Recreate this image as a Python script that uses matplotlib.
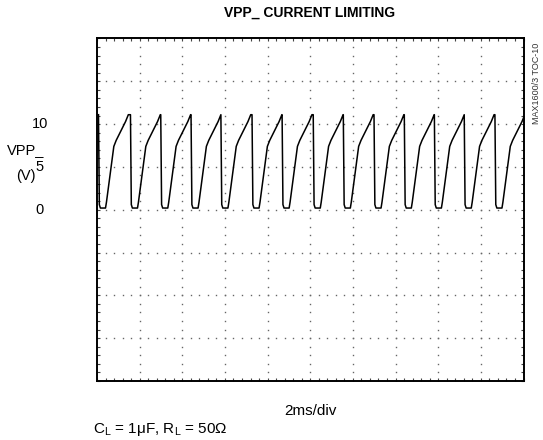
import matplotlib.pyplot as plt
import matplotlib.transforms as mtransforms
import numpy as np

# scope settings: 2ms/div, 5V/div, 10 x 8 divisions, 0V on the centre line
x_divs = 10
y_divs = 8
ms_per_div = 2.0
v_per_div = 5.0

# times (ms) where each pulse falls
edge_times_ms = [0.07, 1.57, 2.99, 4.41, 5.81, 7.27, 8.68,
                 10.14, 11.55, 12.99, 14.41, 15.82, 17.22, 18.66]

# one pulse of the trace, time after the falling edge (ms) and volts
pulse_dt_ms = [0.00, 0.04, 0.09, 0.33, 0.375, 0.48, 0.59, 0.72, 0.83, 0.95, 1.11, 1.27, 1.40]
pulse_v = [11.1, 0.6, 0.2, 0.2, 0.9, 2.9, 5.0, 7.4, 8.1, 8.7, 9.5, 10.3, 11.1]

y_tick_values = [0, 5, 10]

plt.rcParams['font.family'] = ['Liberation Sans', 'DejaVu Sans']
plt.rcParams['mathtext.fontset'] = 'custom'
plt.rcParams['mathtext.rm'] = 'Liberation Sans'
plt.rcParams['mathtext.it'] = 'Liberation Sans'

fig = plt.figure(figsize=(5.43, 4.40), dpi=100)
ax = fig.add_axes([0.1786, 0.1341, 0.7855, 0.7784])

xmax = x_divs * ms_per_div
ymin = -y_divs / 2 * v_per_div
ymax = y_divs / 2 * v_per_div
ax.set_xlim(0, xmax)
ax.set_ylim(ymin, ymax)

# dotted graticule
minor_x = np.arange(0, xmax + 0.01, ms_per_div / 5)
minor_y = np.arange(ymin, ymax + 0.01, v_per_div / 5)
for gx in np.arange(ms_per_div, xmax, ms_per_div):
    ax.plot(np.full(len(minor_y), gx), minor_y, linestyle='none', marker='s',
            markersize=1.0, color='#666666', markeredgewidth=0)
for gy in np.arange(ymin + v_per_div, ymax, v_per_div):
    ax.plot(minor_x, np.full(len(minor_x), gy), linestyle='none', marker='s',
            markersize=1.0, color='#666666', markeredgewidth=0)

# build the trace from the pulses
t_all = []
v_all = []
for i, t0 in enumerate(edge_times_ms):
    t_next = edge_times_ms[i + 1] if i + 1 < len(edge_times_ms) else xmax + 2
    for dt, v in zip(pulse_dt_ms, pulse_v):
        if t0 + dt < t_next:
            t_all.append(t0 + dt)
            v_all.append(v)
ax.plot(t_all, v_all, color='black', linewidth=1.1)

# frame ticks
ax.set_xticks(np.arange(0, xmax + 0.01, ms_per_div))
ax.set_yticks(np.arange(ymin, ymax + 0.01, v_per_div))
ax.set_xticks(minor_x, minor=True)
ax.set_yticks(minor_y, minor=True)
ax.tick_params(which='both', direction='in', top=True, right=True,
               labelbottom=False, labelleft=False, length=2.5, width=0.8,
               color='#444444')
for s in ax.spines.values():
    s.set_linewidth(1.4)

# y labels
trans = mtransforms.blended_transform_factory(ax.transAxes, ax.transData)
for v in y_tick_values:
    ax.text(-0.134, v, str(v), transform=trans, ha='center', va='center', fontsize=10.5)
ax.text(-0.1665, 7.0, 'VPP_', transform=trans, ha='center', va='center', fontsize=10.5)
ax.text(-0.1665, 3.95, '(V)', transform=trans, ha='center', va='center', fontsize=10.5)

fig.text(0.571, 0.970, 'VPP_ CURRENT LIMITING', ha='center', va='center',
         fontsize=10, fontweight='bold')
fig.text(0.571, 0.066, '2ms/div', ha='center', va='center', fontsize=11)
fig.text(0.171, 0.025, r'C$_\mathregular{L}$ = 1$\mathregular{\mu}$F, R$_\mathregular{L}$ = 50$\mathregular{\Omega}$',
         ha='left', va='center', fontsize=11)
fig.text(0.988, 0.81, 'MAX1600/3 TOC-10', rotation=90, ha='center', va='center',
         fontsize=6.5, color='#333333')

fig.savefig('out.png', dpi=100)
